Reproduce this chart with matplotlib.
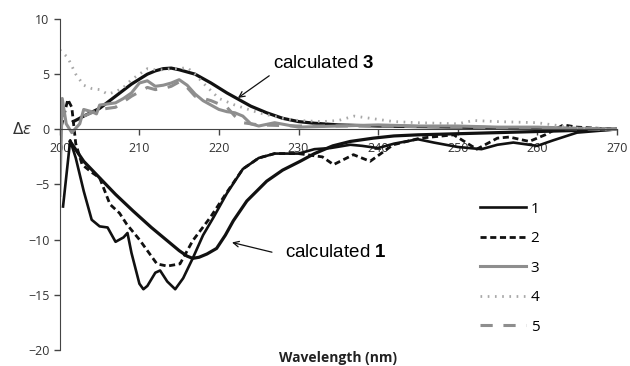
import numpy as np
import matplotlib
matplotlib.use('Agg')
import matplotlib.pyplot as plt

plt.rcParams['mathtext.fontset']='custom'
plt.rcParams['mathtext.bf']='Liberation Sans:bold'

# curve 1 (experimental, black solid)
x1=[200.4,201.3,202,203,204,205,206,207,208,208.5,209,210,210.5,211,212,212.6,213.5,214.5,215.5,216.7,218,219.3,221,223,225,227,230,232,234,236.5,238,240,242,245,247,250,253,255,257,260,262,265,270]
y1=[-7.0,-1.0,-2.6,-5.6,-8.2,-8.8,-8.9,-10.2,-9.8,-9.4,-11.2,-14.0,-14.5,-14.2,-13.0,-12.8,-13.8,-14.5,-13.5,-11.7,-9.6,-8.0,-5.8,-3.6,-2.6,-2.2,-2.2,-1.8,-1.7,-1.4,-1.5,-1.7,-1.3,-0.9,-1.2,-1.6,-1.8,-1.4,-1.2,-1.5,-1.0,-0.3,0.0]

# curve 2 (black dashed)
x2=[200.2,201,201.5,202,202.8,204,205,206.3,207.5,208.4,210,211,212.2,213.5,215.1,216.7,218.9,221,223,225,227,230,233,234.4,236.9,239,241.9,245.3,249.5,252.4,255,256.5,259,261,263.3,265,270]
y2=[0.3,2.7,2.0,-1.3,-3.2,-3.9,-4.4,-6.8,-7.6,-8.6,-10.0,-11.0,-12.2,-12.4,-12.2,-10.1,-8.0,-5.7,-3.6,-2.6,-2.2,-2.2,-2.5,-3.2,-2.3,-2.9,-1.4,-0.8,-0.5,-1.8,-0.8,-0.7,-1.1,-0.5,0.4,0.2,0.0]

# curve 3 (grey solid)
x3=[200,200.3,200.8,201.5,202.5,203,204,204.6,205,206,207,208,209,210,211,212,213,214,215,216,217,218,219,220,221,222,223,224,225,227,230,235,240,245,250,255,260,265,270]
y3=[-6.0,2.8,0.5,-0.3,0.5,1.8,1.6,1.4,2.2,2.3,2.4,2.8,3.3,4.2,4.4,3.9,4.0,4.2,4.5,4.0,3.2,2.6,2.2,1.8,1.6,1.5,1.2,0.5,0.3,0.6,0.2,0.3,0.4,0.3,0.3,0.2,0.2,0.1,0.0]

# curve 4 (grey dotted)
x4=[200,201,202,203,204,205,206,207,208,209,210,211,212,213,214,215,216,217,218,219,220,222,225,228,230,233,235,237,239,242,245,250,252,255,260,265,270]
y4=[7.2,6.5,5.0,4.0,3.7,3.6,3.2,3.4,3.8,4.5,5.0,5.5,5.4,5.4,5.5,5.5,5.6,5.0,4.2,3.5,2.8,2.2,1.5,1.0,0.8,0.7,0.8,1.2,1.0,0.7,0.6,0.5,0.8,0.7,0.6,0.1,0.0]

# curve 5 (grey dashed)
x5=[203,205,207,209,211,212,213,214,215,216,217,218,219,220,221,222,223,225,230,240,250,260,270]
y5=[1.2,1.8,2.0,3.0,3.8,3.6,3.7,3.9,4.3,3.8,3.0,2.8,2.6,2.3,2.0,1.2,0.6,0.4,0.3,0.3,0.2,0.1,0.0]

# calculated 1 and 3 (smooth black)
xc1=[201.3,203,204.6,207,209.2,211.5,213.5,215,216,216.7,217.5,218.5,219.7,220.8,221.8,223.5,226,228,230.2,232,234.3,236.5,239.4,242,245,250,255,260,265,270]
yc1=[-1.1,-2.9,-4.1,-5.9,-7.4,-8.9,-10.1,-11.0,-11.5,-11.7,-11.6,-11.3,-10.8,-9.6,-8.3,-6.5,-4.7,-3.7,-2.9,-2.2,-1.5,-1.1,-0.8,-0.6,-0.5,-0.4,-0.3,-0.2,-0.1,0.0]
xc3=[201.7,203,205,207,209,211,212,213,214,215,216,217,219,221,222,224,226,228,230,232,235,240,245,250,260,270]
yc3=[0.7,1.2,1.9,3.0,4.1,5.0,5.3,5.5,5.55,5.4,5.2,5.0,4.2,3.3,2.9,2.1,1.5,1.0,0.7,0.55,0.4,0.3,0.25,0.2,0.1,0.0]

fig=plt.figure(figsize=(6.3,3.66),dpi=100)
ax=fig.add_axes([0.095,0.044,0.884,0.904])

blk='#111111'
ax.plot(xc3,yc3,color=blk,lw=2.3,solid_joinstyle='round')
ax.plot(xc1,yc1,color=blk,lw=2.3,solid_joinstyle='round')
ax.plot(x1,y1,color=blk,lw=1.9,label='1')
ax.plot(x2,y2,color=blk,lw=2.0,dashes=(2.2,1.3),label='2')
ax.plot(x3,y3,color='#8e8e8e',lw=2.2,label='3')
ax.plot(x4,y4,color='#a8a8a8',lw=2.0,dashes=(0.6,2.0),label='4')
ax.plot(x5,y5,color='#8e8e8e',lw=2.2,dashes=(4,3.5),label='5')

ax.set_xlim(200,270)
ax.set_ylim(-20,10)
ax.spines['top'].set_visible(False)
ax.spines['right'].set_visible(False)
ax.spines['bottom'].set_position(('data',0))
ax.spines['left'].set_color('#444444')
ax.spines['bottom'].set_color('#444444')
ax.set_xticks(range(200,271,10))
ax.set_yticks(range(-20,11,5))
ax.tick_params(axis='both',labelsize=9,colors='#444444',length=4,width=1)
ax.tick_params(axis='x',pad=5)
for t in ax.get_xticklabels()+ax.get_yticklabels():
    t.set_fontfamily('Open Sans')
    t.set_color('#333333')

ax.text(-0.05,20/30,'$\\Delta\\varepsilon$',transform=ax.transAxes,fontsize=11,ha='right',va='center',color='#333333')
fig.text(0.537,0.022,'Wavelength (nm)',ha='center',va='center',fontsize=10,fontweight='bold',family='Open Sans',color='#222222')

ax.annotate('',xy=(222.1,2.7),xytext=(226.6,5.0),arrowprops=dict(arrowstyle='->',color=blk,lw=0.9))
ax.text(226.8,6.0,'calculated $\\mathbf{3}$',fontsize=13.5,family='Liberation Sans',ha='left',va='center')
ax.annotate('',xy=(221.3,-10.2),xytext=(227.0,-11.2),arrowprops=dict(arrowstyle='->',color=blk,lw=0.9))
ax.text(228.3,-11.2,'calculated $\\mathbf{1}$',fontsize=13.5,family='Liberation Sans',ha='left',va='center')

leg=ax.legend(loc='upper left',bbox_to_anchor=(0.73,0.49),frameon=False,handlelength=3.0,handletextpad=0.3,labelspacing=0.95,prop={'family':'Open Sans','size':11})

fig.savefig('out.png')
